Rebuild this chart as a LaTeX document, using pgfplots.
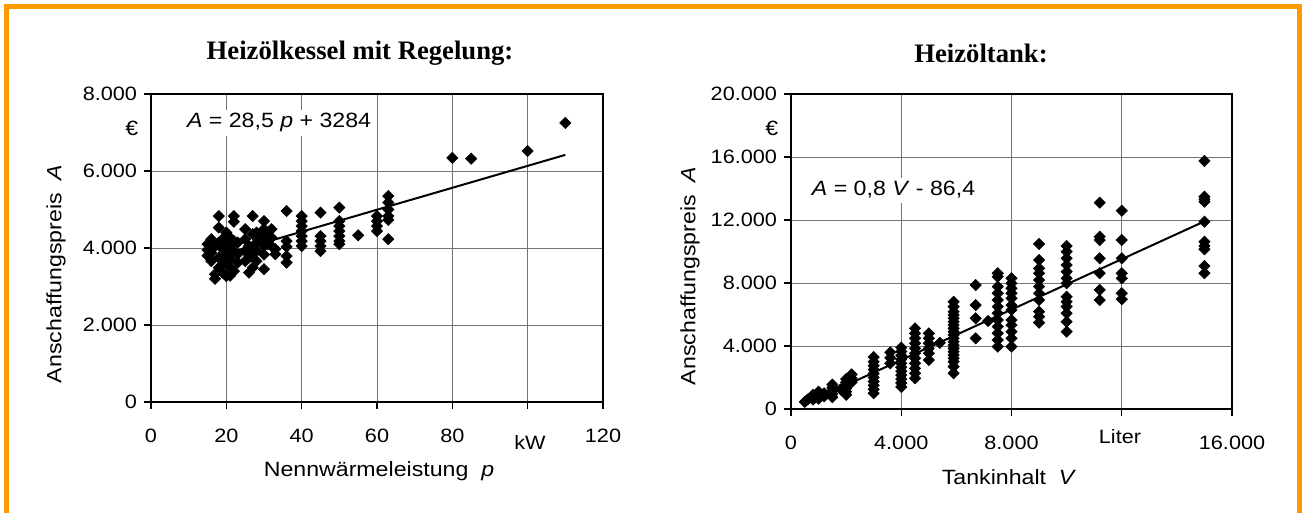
\documentclass[border=0pt]{standalone}
\usepackage{fontspec}
\setmainfont{Liberation Sans}[FakeStretch=1.12]
\newfontfamily\titlefont{Liberation Serif}
\usepackage{pgfplots}
\pgfplotsset{compat=1.18}
\definecolor{frameorange}{RGB}{255,153,0}
\newcommand\tickfnt{\fontsize{14.5}{16}\selectfont}
\newcommand\labfnt{\fontsize{15.5}{18}\selectfont}

\pgfplotsset{
  myax/.style={
    scale only axis,
    anchor=south west,
    scaled ticks=false,
    grid=major,
    major grid style={black!55, line width=0.6pt},
    axis line style={black, line width=1.5pt},
    tick style={black, line width=1pt},
    tick align=outside,
    major tick length=5pt,
    xtick pos=left, ytick pos=left,
    tick label style={font=\tickfnt},
    xticklabel style={yshift=-12pt},
    yticklabel style={xshift=-2pt},
  },
  pts/.style={only marks, mark=square*, mark size=3.0pt, mark options={rotate=45, fill=black, draw=black}},
}

\begin{document}
\begin{tikzpicture}
\path[use as bounding box, fill=white] (0pt,0pt) rectangle (978.75pt,-384.75pt);

% ---------------- left chart ----------------
\begin{axis}[myax,
  at={(113.25pt,-301.5pt)},
  width=339pt, height=231pt,
  xmin=0, xmax=120, ymin=0, ymax=8000,
  xtick={0,20,40,60,80,100,120},
  xticklabels={0,20,40,60,80,{},120},
  ytick={0,2000,4000,6000,8000},
  yticklabels={0,2.000,4.000,6.000,8.000},
]
\addplot[pts] table[row sep=\\] {
x y\\
15 4100\\ 15 3950\\ 15 3800\\ 16 4230\\ 16 3880\\ 16 3660\\ 17 4050\\ 17 3320\\ 17 3200\\
18 4830\\ 18 4530\\ 18 4140\\ 18 3750\\ 18 3490\\ 19 4230\\ 19 3970\\ 19 3660\\ 19 3360\\
20 4400\\ 20 4100\\ 20 3830\\ 20 3580\\ 20 3270\\ 21 4270\\ 21 4010\\ 21 3710\\ 21 3490\\ 21 3280\\
22 4830\\ 22 4680\\ 22 4180\\ 22 3900\\ 22 3400\\ 23 4140\\ 23 3840\\ 23 3620\\
25 4230\\ 25 4490\\ 25 3920\\ 25 3660\\ 26 4050\\ 26 3750\\ 26 3360\\
27 4830\\ 27 4360\\ 27 3880\\ 27 3490\\ 28 4400\\ 28 4140\\ 28 3920\\ 28 3660\\ 29 4270\\
30 4700\\ 30 4490\\ 30 4270\\ 30 4050\\ 30 3830\\ 30 3450\\ 31 4310\\ 31 4100\\
32 4490\\ 32 4270\\ 32 4050\\ 33 3970\\ 33 3840\\
36 4960\\ 36 4180\\ 36 4030\\ 36 3790\\ 36 3620\\
40 4830\\ 40 4700\\ 40 4570\\ 40 4440\\ 40 4310\\ 40 4180\\ 40 4050\\
45 4920\\ 45 4310\\ 45 4180\\ 45 4050\\ 45 3920\\
50 5050\\ 50 4700\\ 50 4570\\ 50 4440\\ 50 4310\\ 50 4180\\ 50 4100\\
55 4330\\ 60 4830\\ 60 4700\\ 60 4570\\ 60 4440\\
63 5350\\ 63 5180\\ 63 5000\\ 63 4830\\ 63 4730\\ 63 4230\\
80 6340\\ 85 6320\\ 100 6520\\ 110 7250\\
};
\addplot[no marks, black, line width=1.5pt] coordinates {(15,3711.5) (110,6419)};
\node[fill=white, inner sep=3pt, font=\fontsize{15.5}{18}\selectfont] at (axis cs:34,7250)
  {\textit{A} = 28,5 \textit{p} + 3284};
\end{axis}

% ---------------- right chart ----------------
\begin{axis}[myax,
  at={(593.25pt,-306.75pt)},
  width=330.75pt, height=236.25pt,
  xmin=0, xmax=16000, ymin=0, ymax=20000,
  xtick={0,4000,8000,12000,16000},
  xticklabels={0,4.000,8.000,{},16.000},
  ytick={0,4000,8000,12000,16000,20000},
  yticklabels={0,4.000,8.000,12.000,16.000,20.000},
]
\addplot[pts] table[row sep=\\] {
x y\\
500 450\\ 600 600\\ 800 600\\ 800 750\\ 800 900\\ 1000 650\\ 1000 800\\ 1000 950\\ 1000 1100\\
1200 800\\ 1200 1000\\ 1500 750\\ 1500 950\\ 1500 1150\\ 1500 1350\\ 1500 1550\\ 1800 1250\\
2000 900\\ 2000 1100\\ 2000 1300\\ 2000 1500\\ 2000 1700\\ 2000 1900\\ 2200 1700\\ 2200 1950\\ 2200 2200\\
3000 1000\\ 3000 1250\\ 3000 1500\\ 3000 1750\\ 3000 2000\\ 3000 2250\\ 3000 2500\\ 3000 2750\\ 3000 3000\\ 3000 3300\\
3600 2900\\ 3600 3250\\ 3600 3600\\
4000 1400\\ 4000 1650\\ 4000 1900\\ 4000 2150\\ 4000 2400\\ 4000 2650\\ 4000 2900\\ 4000 3150\\ 4000 3400\\ 4000 3650\\ 4000 3900\\
4500 1950\\ 4500 2270\\ 4500 2580\\ 4500 2900\\ 4500 3220\\ 4500 3540\\ 4500 3850\\ 4500 4170\\ 4500 4490\\ 4500 4800\\ 4500 5120\\
5000 3110\\ 5000 3540\\ 5000 3850\\ 5000 4170\\ 5000 4490\\ 5000 4800\\ 5400 4200\\
5900 6810\\ 5900 6500\\ 5900 6180\\ 5900 5970\\ 5900 5760\\ 5900 5540\\ 5900 5330\\ 5900 5120\\ 5900 4910\\ 5900 4700\\
5900 4490\\ 5900 4270\\ 5900 4060\\ 5900 3850\\ 5900 3640\\ 5900 3430\\ 5900 3220\\ 5900 3000\\ 5900 2690\\ 5900 2270\\
6700 7870\\ 6700 6600\\ 6700 5760\\ 6700 4490\\ 7150 5590\\
7500 8620\\ 7500 8400\\ 7500 7770\\ 7500 7350\\ 7500 6920\\ 7500 6500\\ 7500 6080\\ 7500 5650\\ 7500 5230\\ 7500 4810\\ 7500 4380\\ 7500 3960\\
8000 8300\\ 8000 7980\\ 8000 7660\\ 8000 7350\\ 8000 7030\\ 8000 6600\\ 8000 6290\\ 8000 5650\\ 8000 5330\\ 8000 4910\\ 8000 4490\\ 8000 3960\\
9000 10480\\ 9000 9460\\ 9000 8930\\ 9000 8620\\ 9000 8190\\ 9000 7770\\ 9000 7350\\ 9000 6920\\ 9000 6180\\ 9000 5860\\ 9000 5480\\
10000 10350\\ 10000 9990\\ 10000 9570\\ 10000 9140\\ 10000 8720\\ 10000 8300\\ 10000 7980\\ 10000 7130\\ 10000 6810\\ 10000 6500\\ 10000 6080\\ 10000 5540\\ 10000 4910\\
11200 13100\\ 11200 10940\\ 11200 10730\\ 11200 9570\\ 11200 8620\\ 11200 7560\\ 11200 6920\\
12000 12590\\ 12000 10730\\ 12000 9570\\ 12000 8620\\ 12000 8300\\ 12000 7350\\ 12000 6970\\
15000 15750\\ 15000 13480\\ 15000 13310\\ 15000 13160\\ 15000 11890\\ 15000 10620\\ 15000 10350\\ 15000 10140\\ 15000 9080\\ 15000 8620\\
};
\addplot[no marks, black, line width=1.5pt] coordinates {(600,393.6) (15000,11913.6)};
\node[fill=white, inner sep=3pt, font=\fontsize{15.5}{18}\selectfont] at (axis cs:3720,13900)
  {\textit{A} = 0,8 \textit{V} - 86,4};
\end{axis}

% ---------------- texts and frame (pixel units) ----------------
\begin{scope}[x=0.75pt, y=-0.75pt]
\node[font=\titlefont\bfseries\fontsize{20}{24}\selectfont] at (360,53) {Heizölkessel mit Regelung:};
\node[font=\titlefont\bfseries\fontsize{20}{24}\selectfont] at (981,53) {Heizöltank:};
\node[font=\tickfnt] at (530,442) {kW};
\node[font=\tickfnt] at (1120,437) {Liter};
\node[font=\labfnt] at (379,471) {Nennwärmeleistung \ \textit{p}};
\node[font=\labfnt] at (1009,477) {Tankinhalt \ \textit{V}};
\node[font=\labfnt, rotate=90] at (56,274) {Anschaffungspreis \ \textit{A}};
\node[font=\labfnt, rotate=90] at (690,276) {Anschaffungspreis \ \textit{A}};
\node[font=\labfnt, anchor=east] at (143,128) {€};
\node[font=\labfnt, anchor=east] at (783,128) {€};
\draw[frameorange, line width=3.75pt] (6.5,530) -- (6.5,7) -- (1299.5,7) -- (1299.5,530);
\end{scope}
\end{tikzpicture}
\end{document}
